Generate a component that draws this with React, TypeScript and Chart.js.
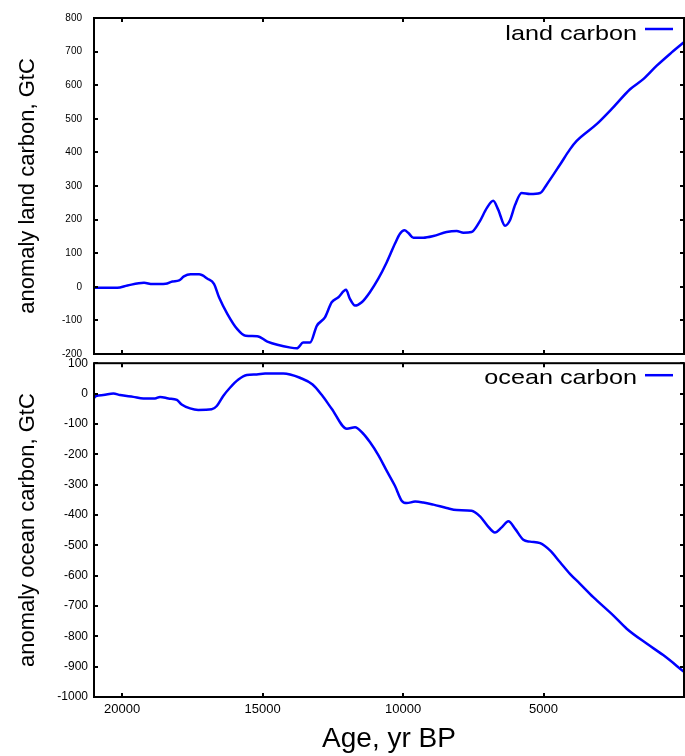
import React, { useEffect, useRef } from 'react';
import { Chart, registerables } from 'chart.js';

Chart.register(...registerables);

// ---- Data ----
const landAge = [21000, 20170, 19810, 19220, 18920, 18450, 18210, 17970, 17800, 17560,
  17260, 16960, 16730, 16550, 16250, 15900, 15600, 15190, 14830, 14000,
  13780, 13550, 13310, 13070, 12780, 12540, 12300, 12030, 11890, 11710,
  11470, 11180, 10880, 10580, 10290, 10110, 9950, 9810, 9630, 9280,
  8920, 8450, 8090, 7850, 7560, 7280, 7020, 6790, 6610, 6370,
  6190, 6010, 5780, 5480, 5120, 4890, 4410, 4060, 3820, 3110,
  2520, 1920, 1450, 970, 500, 0];
const landCarbon = [-3, -3, 4, 12, 8, 9, 16, 19, 31, 37,
  37, 24, 9, -31, -81, -126, -146, -147, -163, -181,
  -183, -166, -166, -116, -91, -46, -31, -9, -36, -56,
  -46, -16, 24, 73, 128, 158, 168, 160, 146, 146,
  151, 163, 166, 161, 163, 193, 234, 256, 229, 182,
  199, 244, 279, 276, 279, 304, 364, 409, 434, 484,
  534, 588, 618, 658, 693, 728];

const oceanAge = [21000, 20930, 20670, 20310, 20070, 19600, 19240, 18830, 18650, 18350,
  18050, 17880, 17580, 17290, 16810, 16630, 16400, 16160, 15860, 15560,
  15210, 14910, 14260, 14020, 13670, 13220, 12890, 12540, 12000, 11710,
  11440, 11180, 10880, 10580, 10290, 10050, 9870, 9570, 9280, 8920,
  8450, 8090, 7560, 7260, 7000, 6730, 6490, 6250, 6010, 5720,
  5480, 5120, 4770, 4410, 4060, 3700, 3230, 2520, 2040, 1330,
  740, 0];
const oceanCarbon = [-15, -8, -5, 0, -5, -11, -16, -16, -11, -16,
  -21, -36, -49, -54, -52, -41, -8, 19, 46, 61,
  63, 66, 66, 63, 52, 30, -5, -50, -116, -111,
  -130, -160, -203, -255, -304, -353, -361, -356, -359, -366,
  -377, -384, -386, -405, -435, -458, -441, -421, -446, -482,
  -488, -493, -517, -556, -594, -627, -671, -731, -775, -824,
  -862, -917];

const xTickValues = [20000, 15000, 10000, 5000];
const landYTicks = [-200, -100, 0, 100, 200, 300, 400, 500, 600, 700, 800];
const oceanYTicks = [-1000, -900, -800, -700, -600, -500, -400, -300, -200, -100, 0, 100];
const ageRange = [0, 21000];

const FONT = '"Liberation Sans", Arial, sans-serif';
const BLUE = '#0000ff';

const frameLegendPlugin = {
  id: 'frameLegend',
  afterDraw(chart: any, _args: any, opts: any) {
    const { ctx, chartArea: a, scales } = chart;
    const xs = scales.x;
    const ys = scales.y;
    ctx.save();
    ctx.strokeStyle = '#000';
    ctx.lineWidth = 2;
    ctx.beginPath();
    for (const v of xTickValues) {
      const px = Math.round(xs.getPixelForValue(v));
      ctx.moveTo(px, a.top); ctx.lineTo(px, a.top + 4);
      ctx.moveTo(px, a.bottom); ctx.lineTo(px, a.bottom - 4);
    }
    for (const t of ys.ticks) {
      const py = Math.round(ys.getPixelForValue(t.value));
      ctx.moveTo(a.left, py); ctx.lineTo(a.left + 4, py);
      ctx.moveTo(a.right, py); ctx.lineTo(a.right - 4, py);
    }
    ctx.stroke();
    ctx.lineWidth = 2;
    ctx.strokeRect(a.left, a.top, a.right - a.left, a.bottom - a.top);

    // legend inside plot, top-right
    ctx.fillStyle = '#000';
    ctx.font = `21px ${FONT}`;
    ctx.textAlign = 'right';
    ctx.textBaseline = 'alphabetic';
    ctx.save();
    ctx.translate(a.right - 47, a.top + opts.baseline);
    ctx.scale(1.2, 1);
    ctx.fillText(opts.text, 0, 0);
    ctx.restore();
    ctx.strokeStyle = BLUE;
    ctx.lineWidth = 2.5;
    ctx.beginPath();
    ctx.moveTo(a.right - 39, a.top + opts.lineY);
    ctx.lineTo(a.right - 11, a.top + opts.lineY);
    ctx.stroke();
    ctx.restore();
  },
};

function makeConfig(p: {
  ages: number[]; values: number[]; label: string; yTicks: number[];
  yTitle: string; showX: boolean; padding: any; yTickFont: number; yTickPad: number;
  legendBaseline: number; legendLineY: number;
}): any {
  return {
    type: 'line',
    data: {
      datasets: [{
        label: p.label,
        data: p.ages.map((a, i) => ({ x: a, y: p.values[i] })),
        borderColor: BLUE,
        backgroundColor: BLUE,
        borderWidth: 2.5,
        pointRadius: 0,
        cubicInterpolationMode: 'monotone',
        fill: false,
      }],
    },
    options: {
      animation: false,
      responsive: false,
      maintainAspectRatio: false,
      layout: { padding: p.padding },
      plugins: {
        legend: { display: false },
        tooltip: { enabled: false },
        frameLegend: { text: p.label, baseline: p.legendBaseline, lineY: p.legendLineY },
      },
      scales: {
        x: {
          type: 'linear',
          reverse: true,
          min: ageRange[0],
          max: ageRange[1],
          display: p.showX,
          grid: { display: false, drawTicks: false },
          border: { display: false },
          afterBuildTicks: (s: any) => { s.ticks = xTickValues.map((v) => ({ value: v })); },
          afterFit: (s: any) => { s.height = p.showX ? 59 : 0; },
          ticks: {
            color: '#000',
            padding: 5,
            maxRotation: 0,
            autoSkip: false,
            font: { family: FONT, size: 13 },
            callback: (v: any) => String(v),
          },
          title: {
            display: true,
            text: 'Age, yr BP',
            color: '#000',
            font: { family: FONT, size: 28, lineHeight: 1.2 },
            padding: { top: 0, bottom: 0 },
          },
        },
        y: {
          type: 'linear',
          min: p.yTicks[0],
          max: p.yTicks[p.yTicks.length - 1],
          grid: { display: false, drawTicks: false },
          border: { display: false },
          afterBuildTicks: (s: any) => { s.ticks = p.yTicks.map((v) => ({ value: v })); },
          afterFit: (s: any) => { s.width = 94; },
          ticks: {
            color: '#000',
            padding: p.yTickPad,
            autoSkip: false,
            font: { family: FONT, size: p.yTickFont },
            callback: (v: any) => String(v),
          },
          title: {
            display: true,
            text: p.yTitle,
            color: '#000',
            font: { family: FONT, size: 22, lineHeight: 1.2 },
            padding: { top: 15, bottom: 0 },
          },
        },
      },
    },
    plugins: [frameLegendPlugin],
  };
}

function Panel(props: { top: number; height: number; config: any }) {
  const ref = useRef<HTMLCanvasElement | null>(null);
  useEffect(() => {
    if (!ref.current) return;
    const chart = new Chart(ref.current, props.config);
    return () => chart.destroy();
  }, []);
  return (
    <canvas
      ref={ref}
      width={685}
      height={props.height}
      style={{ position: 'absolute', left: 0, top: props.top, display: 'block' }}
    />
  );
}

export default function App() {
  const topConfig = makeConfig({
    ages: landAge, values: landCarbon, label: 'land carbon', yTicks: landYTicks,
    yTitle: 'anomaly land carbon, GtC', showX: false,
    padding: { left: 0, right: 1, top: 18, bottom: 9 }, yTickFont: 10, yTickPad: 12,
    legendBaseline: 22, legendLineY: 11,
  });
  const bottomConfig = makeConfig({
    ages: oceanAge, values: oceanCarbon, label: 'ocean carbon', yTicks: oceanYTicks,
    yTitle: 'anomaly ocean carbon, GtC', showX: true,
    padding: { left: 0, right: 1, top: 12, bottom: 0 }, yTickFont: 12, yTickPad: 6,
    legendBaseline: 20.5, legendLineY: 12,
  });
  return (
    <div style={{ position: 'absolute', left: 0, top: 0, width: 685, height: 756, background: '#fff' }}>
      <Panel top={0} height={372} config={topConfig} />
      <Panel top={350} height={406} config={bottomConfig} />
    </div>
  );
}
